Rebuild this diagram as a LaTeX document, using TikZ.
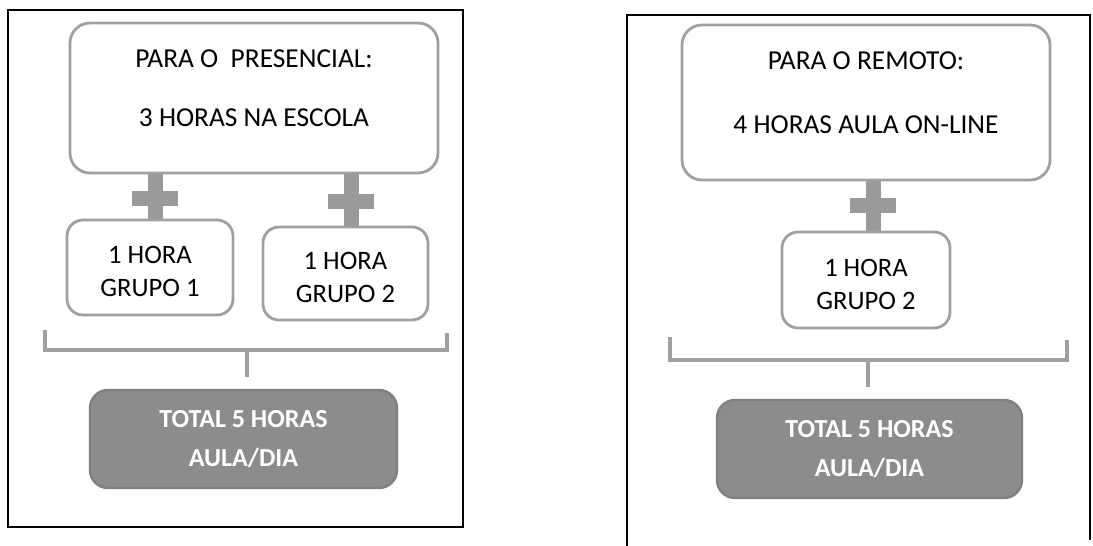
\documentclass[tikz,border=0pt]{standalone}
\usepackage{fontspec}
\setmainfont{Carlito}
\usepackage{tikz}

\definecolor{boxgray}{HTML}{A0A0A0}
\definecolor{plusgray}{HTML}{9A9A9A}
\definecolor{totalgray}{HTML}{8C8C8C}
\tikzset{
  topbox/.style={draw=boxgray, line width=1.4pt, rounded corners=10pt, fill=white,
    align=center, font=\fontsize{13.7}{16.4}\selectfont, inner sep=0pt},
  hourbox/.style={draw=boxgray, line width=1.4pt, rounded corners=8pt, fill=white,
    align=center, font=\fontsize{13.3}{16}\selectfont, inner sep=0pt},
  totalbox/.style={draw=gray, line width=1.2pt, rounded corners=9pt, fill=totalgray,
    text=white, align=center, font=\bfseries\fontsize{13}{15.5}\selectfont, inner sep=0pt},
  plusbar/.style={draw=none, fill=plusgray, minimum width=23pt, minimum height=7.5pt, inner sep=0pt},
  plusstem/.style={draw=plusgray, line width=7.5pt},
  bracket/.style={draw=boxgray, line width=2.4pt},
  frame/.style={draw=black, line width=0.6pt}
}

\begin{document}
\begin{tikzpicture}[x=0.5pt,y=-0.5pt]
  \useasboundingbox (0,0) rectangle (1093,546);
  % frames
  \draw[frame] (8,10) rectangle (463,527);
  \draw[frame] (627,546)--(627,15)--(1090,15)--(1090,540);

  % presencial
  \node[topbox, minimum width=184pt, minimum height=75pt](top1) at (254,98)
    {PARA O\ \ PRESENCIAL:\\[13pt]3 HORAS NA ESCOLA\\[-6.5pt]\mbox{}};
  \node[hourbox, minimum width=83pt, minimum height=47.5pt](g11) at (150,267.5)
    {\mbox{}\\[-3pt]1 HORA\\[0.5pt]GRUPO 1};
  \node[hourbox, minimum width=82.5pt, minimum height=46.5pt](g12) at (345.5,273.5)
    {\mbox{}\\[-3pt]1 HORA\\[0.5pt]GRUPO 2};
  \node[totalbox, minimum width=153.5pt, minimum height=49pt](tot1) at (243.5,439)
    {TOTAL 5 HORAS\\[4pt]AULA/DIA};
  \node[plusbar](p11) at (155,198){};
  \node[plusbar](p12) at (351,201){};
  \draw[plusstem] (top1.south -| p11)--(g11.north -| p11);
  \draw[plusstem] (top1.south -| p12)--(g12.north -| p12);
  \node[plusbar] at (p11){};
  \node[plusbar] at (p12){};
  \coordinate(bl1) at (45,330);
  \coordinate(br1) at (447,333);
  \coordinate(bm1) at (247,350);
  \draw[bracket] (bl1) |- (bm1) -| (br1);
  \draw[bracket, shorten >=6pt] (bm1)--(tot1.north -| bm1);

  % remoto
  \node[topbox, minimum width=184pt, minimum height=77.5pt](top2) at (866,102.5)
    {PARA O REMOTO:\\[15.5pt]4 HORAS AULA ON-LINE\\[-6.5pt]\mbox{}};
  \node[hourbox, minimum width=84pt, minimum height=48pt](g22) at (866,280)
    {\mbox{}\\[-3pt]1 HORA\\[0.5pt]GRUPO 2};
  \node[totalbox, minimum width=152.5pt, minimum height=49pt](tot2) at (869.5,449)
    {TOTAL 5 HORAS\\[4pt]AULA/DIA};
  \node[plusbar](p22) at (873,205){};
  \draw[plusstem] (top2.south -| p22)--(g22.north -| p22);
  \node[plusbar] at (p22){};
  \coordinate(bl2) at (670,337);
  \coordinate(br2) at (1067,340);
  \coordinate(bm2) at (868,360);
  \draw[bracket] (bl2) |- (bm2) -| (br2);
  \draw[bracket, shorten >=6pt] (bm2)--(tot2.north -| bm2);
\end{tikzpicture}
\end{document}
